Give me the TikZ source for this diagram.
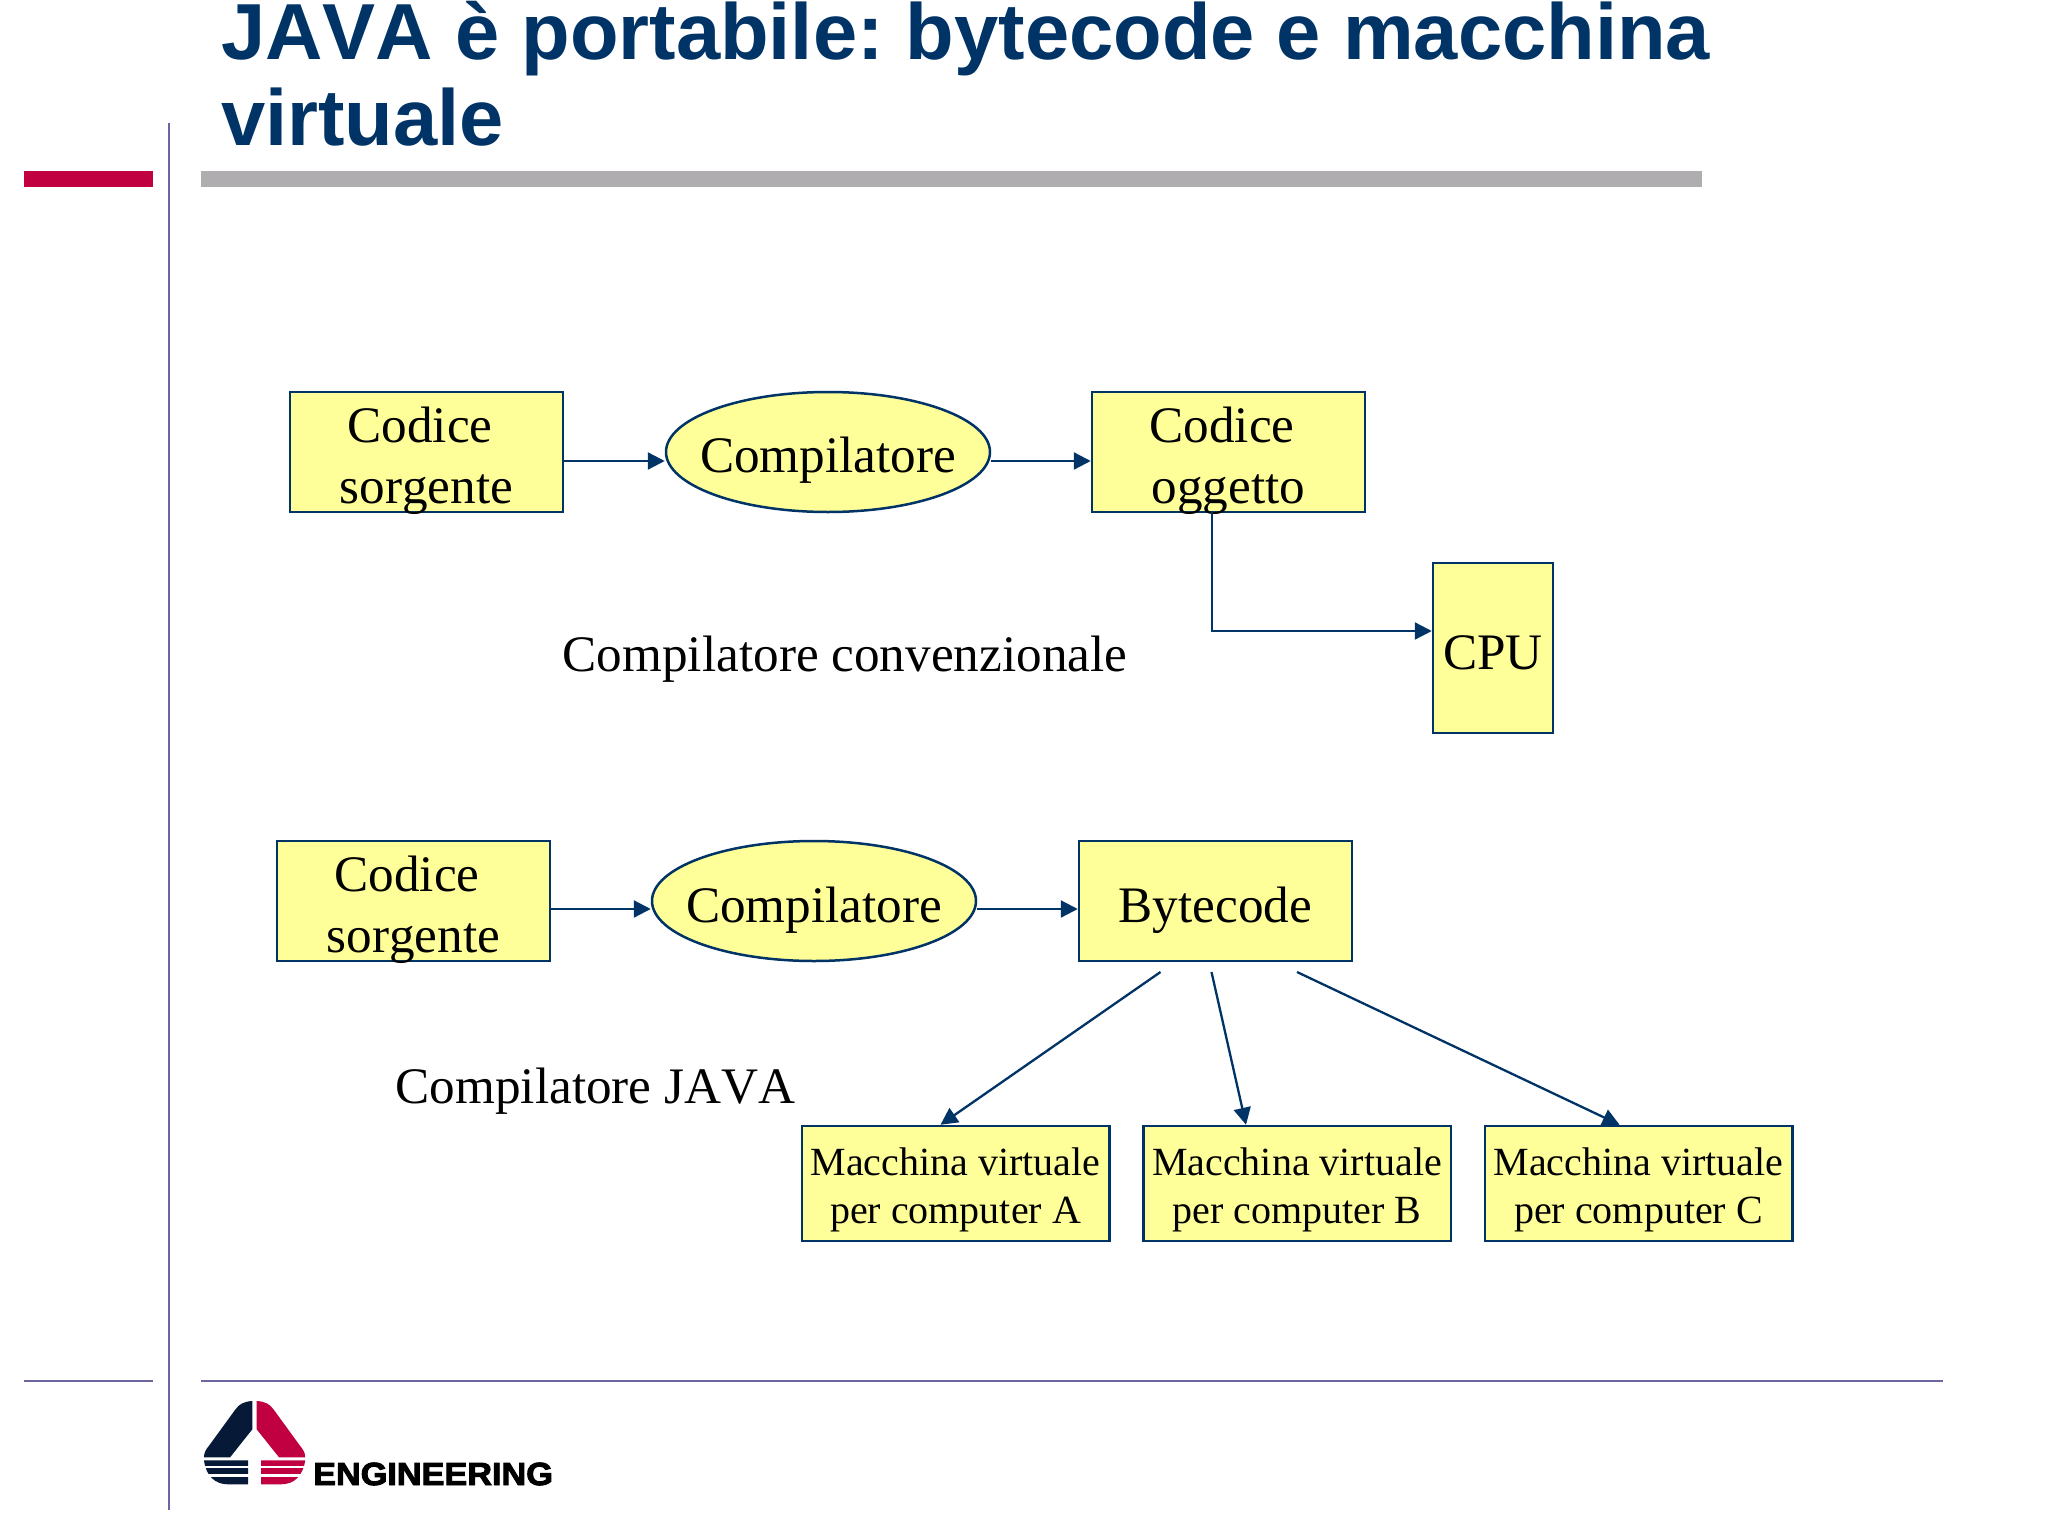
\documentclass[tikz,border=0pt]{standalone}
\usepackage{fontspec}
\setmainfont[Kerning=Off]{Liberation Serif}
\newfontfamily\titlefont[Kerning=Off]{Liberation Sans}
\newfontfamily\logofont[FakeBold=3,FakeStretch=1.07]{Liberation Sans Bold}
\usetikzlibrary{arrows.meta,shapes.geometric,calc}
\definecolor{navy}{HTML}{003366}
\definecolor{boxfill}{HTML}{FFFF99}
\definecolor{rulepurple}{HTML}{6A669F}
\definecolor{barred}{HTML}{C00040}
\definecolor{bargrey}{HTML}{AFADB0}
\definecolor{logodark}{HTML}{061A38}
\newcommand{\bigtext}{\fontsize{51.2}{61}\selectfont}
\newcommand{\smalltext}{\fontsize{40}{48}\selectfont}
% text placed so that its first baseline lies #1 above the node centre
\newcommand{\lines}[2]{\raisebox{#1}[0pt][0pt]{\begin{tabular}[t]{@{}c@{}}#2\end{tabular}}}
\tikzset{
  x=1pt,y=-1pt,
  boxbase/.style={draw=navy,line width=2.5pt,fill=boxfill,inner sep=0pt,text=black},
  bigbox/.style={boxbase,rectangle,minimum width=273pt,minimum height=120pt,font=\bigtext},
  cpubox/.style={boxbase,rectangle,minimum width=120pt,minimum height=170pt,font=\bigtext},
  vmbox/.style={boxbase,rectangle,minimum width=307.5pt,minimum height=115pt,font=\smalltext},
  comp/.style={boxbase,ellipse,minimum width=324pt,minimum height=120pt,font=\bigtext},
  caption/.style={anchor=base,inner sep=0pt,font=\bigtext},
  link/.style={draw=navy,line width=2.3pt,-{Triangle[length=17pt,width=17pt]}},
  plainrule/.style={draw=rulepurple,line width=2.4pt},
}
\frenchspacing
\begin{document}
\begin{tikzpicture}
\useasboundingbox (0,0) rectangle (2048,1536);
\fill[white] (0,0) rectangle (2048,1536);

% slide frame
\fill[barred] (24,171) rectangle (153,187);
\fill[bargrey] (201,171) rectangle (1702,187);
\draw[plainrule] (169,123) -- (169,1510);
\draw[plainrule] (24,1381) -- (153,1381);
\draw[plainrule] (201,1381) -- (1943,1381);

% title
\node[anchor=base west,inner sep=0pt,text=navy,font=\titlefont\bfseries\fontsize{79.5}{85.5}\selectfont] (title) at (221,60)
  {\begin{tabular}[t]{@{}l@{}}JAVA è portabile: bytecode e macchina\\virtuale\end{tabular}};

% upper diagram
\node[bigbox] (src1) at (426.5,452) {\lines{10pt}{\hspace*{-13pt}Codice\\sorgente}};
\node[comp] (comp1) at (828,452) {\makebox[0pt]{\lines{-20pt}{Compilatore}}};
\node[bigbox] (obj) at (1228.5,452) {\lines{10pt}{\hspace*{-13pt}Codice\\oggetto}};
\node[cpubox] (cpu) at (1493,648) {\lines{-21pt}{CPU}};
\node[caption] (cap1) at (845,671) {Compilatore convenzionale};

\coordinate (objout) at (1212,512);
\coordinate (cpuin) at (cpu.west |- 0,631);
\draw[link] (src1.east |- 0,461) -- (comp1.west |- 0,461);
\draw[link] (comp1.east |- 0,461) -- (obj.west |- 0,461);
\draw[link] (objout) |- (cpuin);

% lower diagram
\node[bigbox] (src2) at (413.5,901) {\lines{10pt}{\hspace*{-13pt}Codice\\sorgente}};
\node[comp] (comp2) at (814,901) {\makebox[0pt]{\lines{-21pt}{Compilatore}}};
\node[bigbox] (byte) at (1215.5,901) {\lines{-21pt}{Bytecode}};
\node[caption] (cap2) at (595.5,1103) {Compilatore JAVA};
\node[vmbox] (vma) at (955.5,1183.5) {\lines{8.5pt}{Macchina virtuale\\per computer A}};
\node[vmbox] (vmb) at (1297,1183.5) {\lines{8.5pt}{Macchina virtuale\\per computer B}};
\node[vmbox] (vmc) at (1638.5,1183.5) {\lines{8.5pt}{Macchina virtuale\\per computer C}};

\draw[link] (src2.east |- 0,909) -- (comp2.west |- 0,909);
\draw[link] (comp2.east |- 0,909) -- (byte.west |- 0,909);
\coordinate (ba) at (1160.5,972);
\coordinate (bb) at (1211.5,972);
\coordinate (bc) at (1297,972);
\draw[link] (ba) -- ($(vma.north)+(-15,0)$);
\draw[link] (bb) -- ($(vmb.north)+(-51,0)$);
\draw[link] (bc) -- ($(vmc.north)+(-19,0)$);

% logo
\fill[logodark] (252.3,1401) .. controls (244,1401.5) and (239,1404) .. (235,1410)
  -- (208.8,1446) .. controls (205.5,1450) and (204,1453) .. (204,1457.3)
  -- (230.1,1457.3) -- (252.3,1429.3) -- cycle;
\fill[barred] (256.7,1401) .. controls (265,1401.5) and (270,1404) .. (274,1410)
  -- (300.2,1446) .. controls (303.5,1450) and (305.2,1453) .. (305.2,1457.3)
  -- (279,1457.3) -- (256.7,1429.3) -- cycle;
\fill[logodark] (204,1460.3) -- (248,1460.3) -- (248,1484.3) -- (228,1484.3)
  .. controls (215,1484.3) and (206,1476) .. (204,1460.3) -- cycle;
\fill[barred] (305.2,1460.3) -- (261,1460.3) -- (261,1484.3) -- (281,1484.3)
  .. controls (294,1484.3) and (303,1476) .. (305.2,1460.3) -- cycle;
\fill[white] (200,1466) rectangle (310,1468.3);
\fill[white] (200,1474.3) rectangle (310,1477);
\node[anchor=base west,inner sep=0pt,font=\logofont\fontsize{32}{32}\selectfont,text=black] (logotext) at (313,1485) {ENGINEERING};
\end{tikzpicture}
\end{document}
